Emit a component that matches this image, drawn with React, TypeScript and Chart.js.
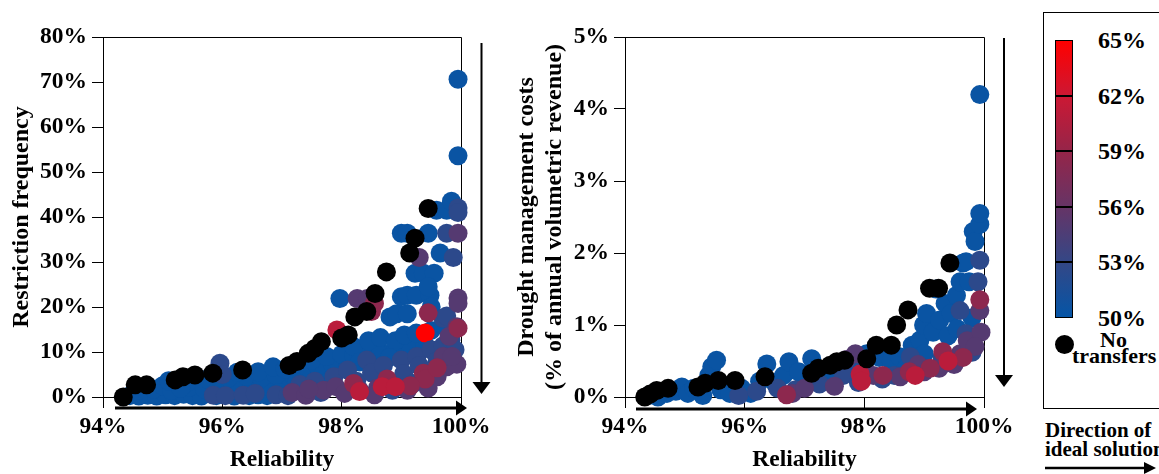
import React, { useEffect, useRef } from "react";
import { Chart, registerables } from "chart.js";

Chart.register(...registerables);

const FONT_FAMILY = '"Liberation Serif", "Times New Roman", Times, serif';

// ---------- data ----------
const reliabilityTicks = [94, 96, 98, 100];
const transferShareTicks = [65, 62, 59, 56, 53, 50];

// transfer share (%) assigned to each colour group
const shareBlue = 50.3;
const shareSlate = 52.5;
const sharePurple = 55;
const shareMaroon = 58.5;
const shareCrimson = 61;
const shareRed = 65;

// Left panel: [reliability %, restriction frequency %]
const leftNoTransfer: [number, number][] = [
  [94.34, 0], [94.54, 2.7], [94.73, 2.7], [95.21, 3.8], [95.34, 4.5], [95.54, 4.9],
  [95.84, 5.3], [96.34, 6], [97.12, 7], [97.25, 7.9], [97.44, 9.7], [97.55, 10.8],
  [97.66, 12.3], [98.0, 13.1], [98.11, 13.8], [98.22, 17.8], [98.42, 19], [98.56, 23],
  [98.75, 27.8], [99.14, 32], [99.23, 35.3], [99.45, 41.9],
];
const leftBlue: [number, number][] = [
  [94.45, 0.3], [94.6, 0.2], [94.75, 0.4], [94.9, 0.2], [95.05, 0.5], [95.2, 0.3], [95.35, 0.6],
  [95.5, 0.3], [95.65, 0.2], [95.9, 0.3], [96.05, 0.6], [96.2, 0.2], [96.45, 0.3], [96.6, 0.5],
  [96.75, 0.3], [94.6, 1.5], [94.85, 1.8], [95.0, 2.5], [95.15, 1.5], [95.45, 2.2], [95.7, 1.8],
  [96.0, 2.5], [96.3, 2.0], [96.5, 2.8], [96.8, 2.2], [97.05, 2.5], [95.1, 3.6], [95.4, 3.2],
  [95.75, 4.0], [96.1, 4.2], [96.4, 4.6], [96.65, 4.2], [96.9, 4.8], [97.2, 4.5], [97.45, 4.8],
  [97.7, 5.0], [96.25, 5.5], [96.6, 5.6], [96.85, 6.7], [97.05, 6.2], [97.35, 6.3], [97.6, 6.8],
  [97.85, 7.2], [98.1, 7.5], [97.5, 8.2], [97.75, 9.0], [98.0, 9.5], [98.2, 9.2], [98.4, 9.8],
  [98.65, 10.0], [98.9, 10.5], [99.15, 11], [99.4, 11.5], [98.2, 11.2], [98.45, 12.5],
  [98.65, 13.2], [98.9, 12.5], [99.05, 13.8], [99.25, 14.2], [99.5, 14.8], [99.7, 16],
  [97.97, 21.9], [98.81, 17.8], [98.92, 18.5], [99.1, 18.5], [99.0, 22.3], [99.1, 22.6],
  [99.25, 22.6], [99.48, 22.6], [99.23, 27.5], [99.37, 27.5], [99.55, 27.5], [99.0, 36.4],
  [99.1, 36.4], [99.45, 36.4], [99.59, 41.5], [99.65, 32], [99.76, 41.5], [99.84, 43.5],
  [99.95, 53.6], [99.95, 70.6], [99.5, 20], [99.45, 24.5], [95.3, 2.0], [95.9, 1.2],
  [96.95, 1.0], [97.25, 3.2], [98.3, 7.8], [98.8, 8.8],
];
const leftSlate: [number, number][] = [
  [95.85, 0.4], [95.96, 7.5], [96.0, 5], [96.05, 0.3], [96.35, 0.4], [96.55, 0.8], [96.9, 0.5],
  [97.1, 0.3], [97.3, 2.8], [97.55, 3.5], [97.65, 1.0], [97.87, 4.5], [98.1, 6], [98.25, 3.5],
  [98.42, 8.2], [98.5, 5.4], [98.7, 7], [98.85, 1.5], [99.0, 8.2], [99.04, 5.2], [99.2, 3],
  [99.26, 9], [99.5, 10.5], [99.54, 5.7], [99.7, 11.4], [99.83, 12.6], [99.7, 17.5], [99.76, 18],
  [99.76, 36.4], [99.87, 31], [99.95, 42], [99.95, 41], [99.9, 10.5], [99.6, 8], [99.3, 7],
];
const leftPurple: [number, number][] = [
  [97.17, 1.0], [97.4, 0.4], [97.7, 1.5], [97.9, 2.3], [98.05, 0.8], [98.3, 1.5], [98.26, 21.9],
  [98.43, 21.9], [99.3, 31], [99.76, 6.7], [99.93, 7.3], [99.95, 36.4], [99.95, 22], [99.95, 20.8],
  [99.93, 15.6], [99.7, 9], [99.6, 4.5], [99.85, 9], [98.6, 2], [98.55, 0.5], [99.45, 2.0],
  [99.1, 1.5], [99.8, 13.5], [97.45, 1.8],
];
const leftMaroon: [number, number][] = [
  [98.5, 19], [98.55, 20.8], [98.2, 3], [98.76, 4], [99.37, 5.3], [99.45, 18.7], [99.4, 4],
  [99.15, 2.5], [99.95, 15.3], [99.6, 6.5],
];
const leftCrimson: [number, number][] = [[97.92, 14.9], [98.68, 2.3], [98.9, 2.3], [98.3, 1.2]];
const leftRed: [number, number][] = [[99.4, 14.2]];

// Right panel: [reliability %, drought management cost %]
const rightNoTransfer: [number, number][] = [
  [94.33, 0], [94.42, 0.04], [94.53, 0.09], [94.72, 0.12], [95.22, 0.14], [95.34, 0.19],
  [95.56, 0.23], [95.84, 0.23], [96.34, 0.28], [97.12, 0.33], [97.23, 0.4], [97.43, 0.44],
  [97.54, 0.49], [97.67, 0.51], [98.04, 0.53], [98.2, 0.72], [98.45, 0.72], [98.54, 1.0],
  [98.73, 1.21], [99.09, 1.51], [99.24, 1.51], [99.43, 1.86],
];
const rightBlue: [number, number][] = [
  [94.4, 0.02], [94.55, 0.0], [94.7, 0.05], [94.85, 0.08], [94.95, 0.14], [95.05, 0.05],
  [95.15, 0.12], [95.3, 0.02], [95.4, 0.3], [95.45, 0.42], [95.53, 0.51], [95.6, 0.1],
  [95.75, 0.05], [95.95, 0.12], [96.1, 0.05], [96.25, 0.22], [96.37, 0.46], [96.5, 0.2],
  [96.65, 0.3], [96.74, 0.49], [96.9, 0.35], [97.12, 0.53], [97.3, 0.25], [97.5, 0.35],
  [97.8, 0.45], [98.04, 0.6], [98.25, 0.55], [98.45, 0.5], [98.59, 0.56], [98.8, 0.72],
  [98.93, 0.79], [98.99, 1.0], [99.04, 1.16], [99.15, 0.9], [99.26, 1.07], [99.35, 1.3],
  [99.45, 1.16], [99.54, 1.41], [99.6, 1.6], [99.65, 1.86], [99.7, 1.88], [99.82, 2.3],
  [99.85, 2.16], [99.93, 2.4], [99.93, 2.55], [99.93, 4.2], [99.4, 0.85], [98.7, 0.4],
  [99.0, 0.6], [99.55, 0.95], [99.8, 1.1], [99.2, 1.5], [99.75, 1.6],
];
const rightSlate: [number, number][] = [
  [95.9, 0.02], [96.2, 0.08], [96.55, 0.12], [96.85, 0.1], [97.25, 0.18], [97.65, 0.3],
  [98.0, 0.4], [98.5, 0.3], [98.77, 0.56], [99.0, 0.4], [99.3, 0.55], [99.5, 0.5], [99.7, 0.88],
  [99.93, 1.9], [99.9, 1.6], [99.8, 0.62], [99.6, 1.2], [97.9, 0.2], [98.3, 0.25],
];
const rightPurple: [number, number][] = [
  [96.8, 0.05], [97.0, 0.12], [97.5, 0.15], [97.7, 0.52], [97.85, 0.6], [98.15, 0.3],
  [98.6, 0.28], [99.0, 0.35], [99.25, 0.4], [99.6, 0.6], [99.72, 0.78], [99.93, 1.2],
  [99.95, 0.9], [99.85, 0.7], [99.5, 0.45], [98.9, 0.45],
];
const rightMaroon: [number, number][] = [
  [98.31, 0.3], [99.31, 0.63], [99.93, 1.35], [96.7, 0.03], [98.75, 0.35], [99.65, 0.55],
  [99.1, 0.4],
];
const rightCrimson: [number, number][] = [[97.93, 0.32], [97.95, 0.22], [98.85, 0.3], [99.4, 0.5]];

// ---------- styles ----------
const colorStopShares = [50, 53, 56, 59, 62, 65];
const colorStopRGB = [
  [5, 85, 166],
  [52, 71, 134],
  [102, 52, 102],
  [149, 37, 73],
  [204, 24, 52],
  [255, 0, 0],
];

function shareColor(s: number): string {
  const n = colorStopShares.length;
  if (s <= colorStopShares[0]) return `rgb(${colorStopRGB[0].join(",")})`;
  if (s >= colorStopShares[n - 1]) return `rgb(${colorStopRGB[n - 1].join(",")})`;
  for (let i = 0; i < n - 1; i++) {
    const a = colorStopShares[i];
    const b = colorStopShares[i + 1];
    if (s >= a && s <= b) {
      const t = (s - a) / (b - a);
      const c = colorStopRGB[i].map((v, k) => Math.round(v + (colorStopRGB[i + 1][k] - v) * t));
      return `rgb(${c.join(",")})`;
    }
  }
  return "#000";
}

const POINT_R = 9.5;
const TICK_SIZE = 23.5;
const TITLE_SIZE = 24;

type Group = { points: [number, number][]; color: string };

type ArrowOpts = {
  hy: number; hx0: number; hx1: number;
  vx: number; vy0: number; vy1: number;
};

const framePlugin = {
  id: "frameArrows",
  beforeDatasetsDraw(chart: any) {
    const { ctx, chartArea: a } = chart;
    ctx.save();
    ctx.strokeStyle = "#000";
    ctx.lineWidth = 1;
    const top = Math.round(a.top) + 0.5;
    const right = Math.round(a.right) + 0.5;
    ctx.beginPath();
    ctx.moveTo(a.left, top);
    ctx.lineTo(right, top);
    ctx.lineTo(right, a.bottom);
    ctx.stroke();
    ctx.restore();
  },
  afterDraw(chart: any, _args: any, opts: ArrowOpts) {
    const { ctx, chartArea: a } = chart;
    ctx.save();
    ctx.fillStyle = "#000";
    ctx.strokeStyle = "#000";
    const hy = a.bottom + opts.hy;
    const hx0 = a.left + opts.hx0;
    const hx1 = a.right + opts.hx1;
    ctx.lineWidth = 3;
    ctx.beginPath();
    ctx.moveTo(hx0, hy);
    ctx.lineTo(hx1 - 8, hy);
    ctx.stroke();
    ctx.beginPath();
    ctx.moveTo(hx1, hy);
    ctx.lineTo(hx1 - 11, hy - 7.5);
    ctx.lineTo(hx1 - 11, hy + 7.5);
    ctx.closePath();
    ctx.fill();
    const vx = a.right + opts.vx;
    const vy0 = a.top + opts.vy0;
    const vy1 = a.bottom + opts.vy1;
    ctx.lineWidth = 2;
    ctx.beginPath();
    ctx.moveTo(vx, vy0);
    ctx.lineTo(vx, vy1 - 8);
    ctx.stroke();
    ctx.beginPath();
    ctx.moveTo(vx, vy1);
    ctx.lineTo(vx - 9, vy1 - 12);
    ctx.lineTo(vx + 9, vy1 - 12);
    ctx.closePath();
    ctx.fill();
    ctx.restore();
  },
};

type PanelProps = {
  left: number;
  width: number;
  yAxisWidth: number;
  padRight: number;
  yMax: number;
  yStep: number;
  yTitle: string | string[];
  yTitlePad: number;
  groups: Group[];
  arrows: ArrowOpts;
};

function Panel(p: PanelProps) {
  const ref = useRef<HTMLCanvasElement>(null);
  useEffect(() => {
    if (!ref.current) return;
    const tickFont = { family: FONT_FAMILY, weight: "bold" as const, size: TICK_SIZE };
    // first group is drawn on top, last group at the bottom
    const datasets = p.groups.map((g, i) => ({
      data: g.points.map(([x, y]) => ({ x, y })),
      backgroundColor: g.color,
      pointBackgroundColor: g.color,
      borderWidth: 0,
      pointBorderWidth: 0,
      pointRadius: POINT_R,
      pointHoverRadius: POINT_R,
      clip: false as any,
      order: i,
    }));
    const chart = new Chart(ref.current, {
      type: "scatter",
      data: { datasets },
      plugins: [framePlugin],
      options: {
        responsive: false,
        animation: false,
        events: [],
        layout: { padding: { top: 37, right: p.padRight, left: 0, bottom: 0 } },
        plugins: {
          legend: { display: false },
          tooltip: { enabled: false },
          frameArrows: p.arrows,
        } as any,
        scales: {
          x: {
            type: "linear",
            min: reliabilityTicks[0],
            max: reliabilityTicks[reliabilityTicks.length - 1],
            afterBuildTicks: (s: any) => {
              s.ticks = reliabilityTicks.map((v) => ({ value: v }));
            },
            ticks: {
              callback: (v: any) => `${v}%`,
              font: tickFont,
              color: "#000",
              padding: 5,
              maxRotation: 0,
              autoSkip: false,
            },
            grid: { drawOnChartArea: false, drawTicks: true, tickLength: 11, color: "#000", lineWidth: 1 },
            border: { display: true, color: "#000", width: 1 },
            title: {
              display: true,
              text: "Reliability",
              font: { family: FONT_FAMILY, weight: "bold", size: TICK_SIZE },
              color: "#000",
              padding: { top: 0, bottom: 0 },
            },
            afterFit: (s: any) => {
              s.height = 77;
            },
          },
          y: {
            type: "linear",
            min: 0,
            max: p.yMax,
            ticks: {
              stepSize: p.yStep,
              callback: (v: any) => `${v}%`,
              font: tickFont,
              color: "#000",
              padding: 5,
              autoSkip: false,
            },
            grid: { drawOnChartArea: false, drawTicks: true, tickLength: 11, color: "#000", lineWidth: 1 },
            border: { display: true, color: "#000", width: 1 },
            title: {
              display: true,
              text: p.yTitle,
              font: { family: FONT_FAMILY, weight: "bold", size: TITLE_SIZE, lineHeight: 1.15 },
              color: "#000",
              padding: { top: p.yTitlePad, bottom: 0 },
            },
            afterFit: (s: any) => {
              s.width = p.yAxisWidth;
            },
          },
        },
      } as any,
    });
    return () => chart.destroy();
  }, []);
  return (
    <canvas
      ref={ref}
      width={p.width}
      height={474}
      style={{ position: "absolute", left: p.left, top: 0, width: p.width, height: 474 }}
    />
  );
}

const BAR_TOP = 40;
const BAR_H = 278;
const BAR_LEFT = 1055;

function Legend() {
  const maxS = transferShareTicks[0];
  const minS = transferShareTicks[transferShareTicks.length - 1];
  const yOf = (v: number) => BAR_TOP + ((maxS - v) / (maxS - minS)) * BAR_H;
  const gradStops = colorStopShares
    .slice()
    .reverse()
    .map((s) => `${shareColor(s)} ${(((maxS - s) / (maxS - minS)) * 100).toFixed(1)}%`)
    .join(", ");
  const textStyle: React.CSSProperties = {
    position: "absolute",
    fontFamily: FONT_FAMILY,
    fontWeight: "bold",
    fontSize: 22,
    lineHeight: "22px",
    color: "#000",
    whiteSpace: "nowrap",
  };
  return (
    <>
      <div
        style={{
          position: "absolute",
          left: 1043,
          top: 12,
          width: 140,
          height: 397,
          border: "1.5px solid #000",
          boxSizing: "border-box",
        }}
      />
      <div
        style={{
          position: "absolute",
          left: BAR_LEFT,
          top: BAR_TOP,
          width: 18,
          height: BAR_H,
          border: "1px solid #000",
          boxSizing: "border-box",
          background: `linear-gradient(to bottom, ${gradStops})`,
        }}
      />
      {transferShareTicks.slice(1, -1).map((v) => (
        <div
          key={"l" + v}
          style={{
            position: "absolute",
            left: BAR_LEFT,
            top: Math.round(yOf(v)) - 1,
            width: 18,
            height: 1.5,
            background: "#000",
          }}
        />
      ))}
      {transferShareTicks.map((v) => (
        <div key={"t" + v} style={{ ...textStyle, fontSize: 24, lineHeight: "24px", left: 1098, top: yOf(v) - 12 }}>
          {v}%
        </div>
      ))}
      <div
        style={{
          position: "absolute",
          left: 1064 - POINT_R,
          top: 344 - POINT_R,
          width: POINT_R * 2,
          height: POINT_R * 2,
          borderRadius: "50%",
          background: "#000",
        }}
      />
      <div style={{ ...textStyle, left: 1100, top: 329 }}>No</div>
      <div style={{ ...textStyle, left: 1072, top: 345 }}>transfers</div>
      <div style={{ ...textStyle, fontSize: 21, left: 1045, top: 419 }}>Direction of</div>
      <div style={{ ...textStyle, fontSize: 21, left: 1045, top: 438 }}>ideal solution</div>
      <svg style={{ position: "absolute", left: 1040, top: 458 }} width={130} height={20}>
        <line x1={5} y1={10} x2={104} y2={10} stroke="#000" strokeWidth={2.5} />
        <polygon points="116,10 104,4 104,16" fill="#000" />
      </svg>
    </>
  );
}

export default function App() {
  const leftGroups: Group[] = [
    { points: leftNoTransfer, color: "#000" },
    { points: leftCrimson, color: shareColor(shareCrimson) },
    { points: leftMaroon, color: shareColor(shareMaroon) },
    { points: leftPurple, color: shareColor(sharePurple) },
    { points: leftSlate, color: shareColor(shareSlate) },
    { points: leftRed, color: shareColor(shareRed) },
    { points: leftBlue, color: shareColor(shareBlue) },
  ];
  const rightGroups: Group[] = [
    { points: rightNoTransfer, color: "#000" },
    { points: rightCrimson, color: shareColor(shareCrimson) },
    { points: rightMaroon, color: shareColor(shareMaroon) },
    { points: rightPurple, color: shareColor(sharePurple) },
    { points: rightSlate, color: shareColor(shareSlate) },
    { points: rightBlue, color: shareColor(shareBlue) },
  ];
  return (
    <div
      style={{
        position: "fixed",
        left: 0,
        top: 0,
        width: 1159,
        height: 474,
        overflow: "hidden",
        background: "#fff",
      }}
    >
      <Panel
        left={0}
        width={500}
        yAxisWidth={103}
        padRight={39}
        yMax={80}
        yStep={10}
        yTitle="Restriction frequency"
        yTitlePad={8}
        groups={leftGroups}
        arrows={{ hy: 11, hx0: 12, hx1: 6, vx: 20.5, vy0: 6, vy1: -3 }}
      />
      <Panel
        left={500}
        width={520}
        yAxisWidth={125}
        padRight={36}
        yMax={5}
        yStep={1}
        yTitle={["Drought management costs", "(% of annual volumetric revenue)"]}
        yTitlePad={13}
        groups={rightGroups}
        arrows={{ hy: 12, hx0: 11, hx1: -7, vx: 20, vy0: 1, vy1: -10 }}
      />
      <Legend />
    </div>
  );
}
